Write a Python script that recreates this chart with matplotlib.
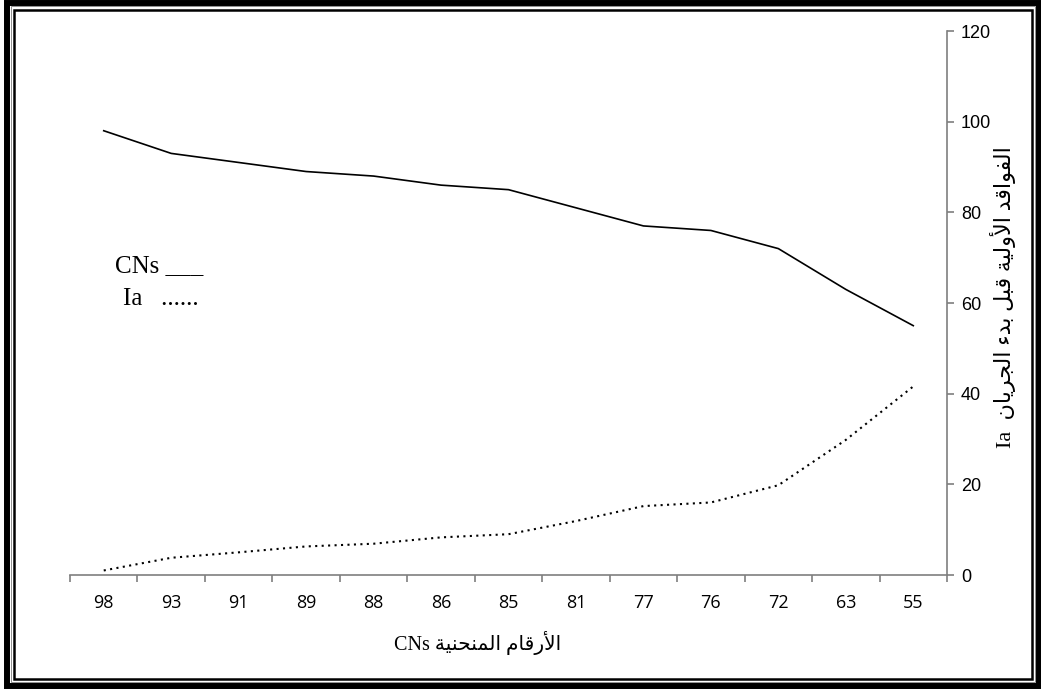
import matplotlib
matplotlib.use('Agg')
import matplotlib.pyplot as plt
from matplotlib.patches import Rectangle

# أرقام المنحنى CN والفواقد الأولية Ia المقابلة لها
cn_labels = ['98', '93', '91', '89', '88', '86', '85', '81', '77', '76', '72', '63', '55']
cn_values = [98, 93, 91, 89, 88, 86, 85, 81, 77, 76, 72, 63, 55]
ia_values = [1.0, 3.8, 5.0, 6.3, 6.9, 8.3, 9.0, 11.9, 15.2, 16.0, 19.8, 29.8, 41.6]
y_ticks = [0, 20, 40, 60, 80, 100, 120]

W, H = 1041, 690

# أشكال الحروف: (منفرد، نهائي، ابتدائي، وسطي)
FORMS = {
    'ا': ('\ufe8d', '\ufe8e', None, None),
    'أ': ('\ufe83', '\ufe84', None, None),
    'ء': ('\ufe80', None, None, None),
    'ب': ('\ufe8f', '\ufe90', '\ufe91', '\ufe92'),
    'ة': ('\ufe93', '\ufe94', None, None),
    'ج': ('\ufe9d', '\ufe9e', '\ufe9f', '\ufea0'),
    'ح': ('\ufea1', '\ufea2', '\ufea3', '\ufea4'),
    'د': ('\ufea9', '\ufeaa', None, None),
    'ر': ('\ufead', '\ufeae', None, None),
    'ف': ('\ufed1', '\ufed2', '\ufed3', '\ufed4'),
    'ق': ('\ufed5', '\ufed6', '\ufed7', '\ufed8'),
    'ل': ('\ufedd', '\ufede', '\ufedf', '\ufee0'),
    'م': ('\ufee1', '\ufee2', '\ufee3', '\ufee4'),
    'ن': ('\ufee5', '\ufee6', '\ufee7', '\ufee8'),
    'و': ('\ufeed', '\ufeee', None, None),
    'ي': ('\ufef1', '\ufef2', '\ufef3', '\ufef4'),
    'لا': ('\ufefb', '\ufefc', None, None),
    'لأ': ('\ufef7', '\ufef8', None, None),
}


def shape(text):
    # matplotlib لا يربط الحروف العربية، لذلك نختار شكل كل حرف ونعكس الترتيب
    units = []
    i = 0
    while i < len(text):
        pair = text[i:i + 2]
        if pair in FORMS:
            units.append(pair)
            i += 2
        else:
            units.append(text[i])
            i += 1
    out = []
    for k, u in enumerate(units):
        if u not in FORMS:
            out.append(u)
            continue
        isol, fina, init, medi = FORMS[u]
        prev = units[k - 1] if k > 0 else None
        nxt = units[k + 1] if k + 1 < len(units) else None
        join_prev = fina is not None and prev in FORMS and FORMS[prev][2] is not None
        join_next = init is not None and nxt in FORMS and FORMS[nxt][1] is not None
        if join_prev and join_next:
            out.append(medi)
        elif join_prev:
            out.append(fina)
        elif join_next:
            out.append(init)
        else:
            out.append(isol)
    return ''.join(reversed(out))


def box(x0, y0, x1, y1, lw, color):
    # مستطيل بإحداثيات البكسل (من أعلى اليسار)
    return Rectangle((x0 / W, 1 - y1 / H), (x1 - x0) / W, (y1 - y0) / H,
                     transform=fig.transFigure, fill=False, lw=lw,
                     edgecolor=color, zorder=10)


fig = plt.figure(figsize=(W / 100, H / 100), dpi=100)
ax = fig.add_axes([70 / W, 1 - 575 / H, 877 / W, 544 / H])

x = list(range(len(cn_labels)))
ax.plot(x, cn_values, color='black', lw=1.2)
ax.plot(x, ia_values, color='black', lw=1.5, linestyle=(0, (1, 2.1)))

ax.set_xlim(-0.5, len(cn_labels) - 0.5)
ax.set_ylim(0, 120)

axis_color = '#7f7f7f'
for side in ['top', 'left']:
    ax.spines[side].set_visible(False)
for side in ['right', 'bottom']:
    ax.spines[side].set_color(axis_color)
    ax.spines[side].set_linewidth(1.2)

ax.yaxis.tick_right()
ax.set_yticks(y_ticks)
ax.set_yticklabels([str(v) for v in y_ticks],
                   family=['Liberation Sans Narrow', 'Liberation Sans'], fontsize=13)
ax.tick_params(axis='y', length=5, width=1.2, color=axis_color, pad=5)

# علامات المحور عند حدود الفئات، والتسميات في منتصفها
ax.set_xticks([i - 0.5 for i in range(len(cn_labels) + 1)])
ax.set_xticklabels([])
ax.tick_params(axis='x', which='major', length=5, width=1.2, color=axis_color)
ax.set_xticks(x, minor=True)
ax.set_xticklabels(cn_labels, minor=True, family=['Open Sans', 'DejaVu Sans'], fontsize=13)
ax.tick_params(axis='x', which='minor', length=0, pad=14)

mixed = ['Liberation Serif', 'DejaVu Sans']
fig.text(478 / W, 1 - 643 / H, 'CNs ' + shape('الأرقام المنحنية'),
         ha='center', va='center', fontsize=14.5, family=mixed)
fig.text(1003 / W, 1 - 297 / H, 'Ia  ' + shape('الفواقد الأولية قبل بدء الجريان'),
         ha='center', va='center', rotation=90, fontsize=16, family=mixed)

# مفتاح الخطوط
fig.text(115 / W, 1 - 272 / H, 'CNs ___', fontsize=18, family='Liberation Serif',
         va='baseline')
fig.text(123 / W, 1 - 305 / H, 'Ia   ......', fontsize=18, family='Liberation Serif',
         va='baseline')

# الإطار المزدوج حول الشكل
fig.add_artist(box(7, 2.5, 1038.5, 686, 4.3, 'black'))
fig.add_artist(box(10.5, 5.5, 1035, 681.5, 0.7, '#909090'))
fig.add_artist(box(14, 10.3, 1031.5, 678.5, 1.8, 'black'))

fig.savefig('out.png', dpi=100)
